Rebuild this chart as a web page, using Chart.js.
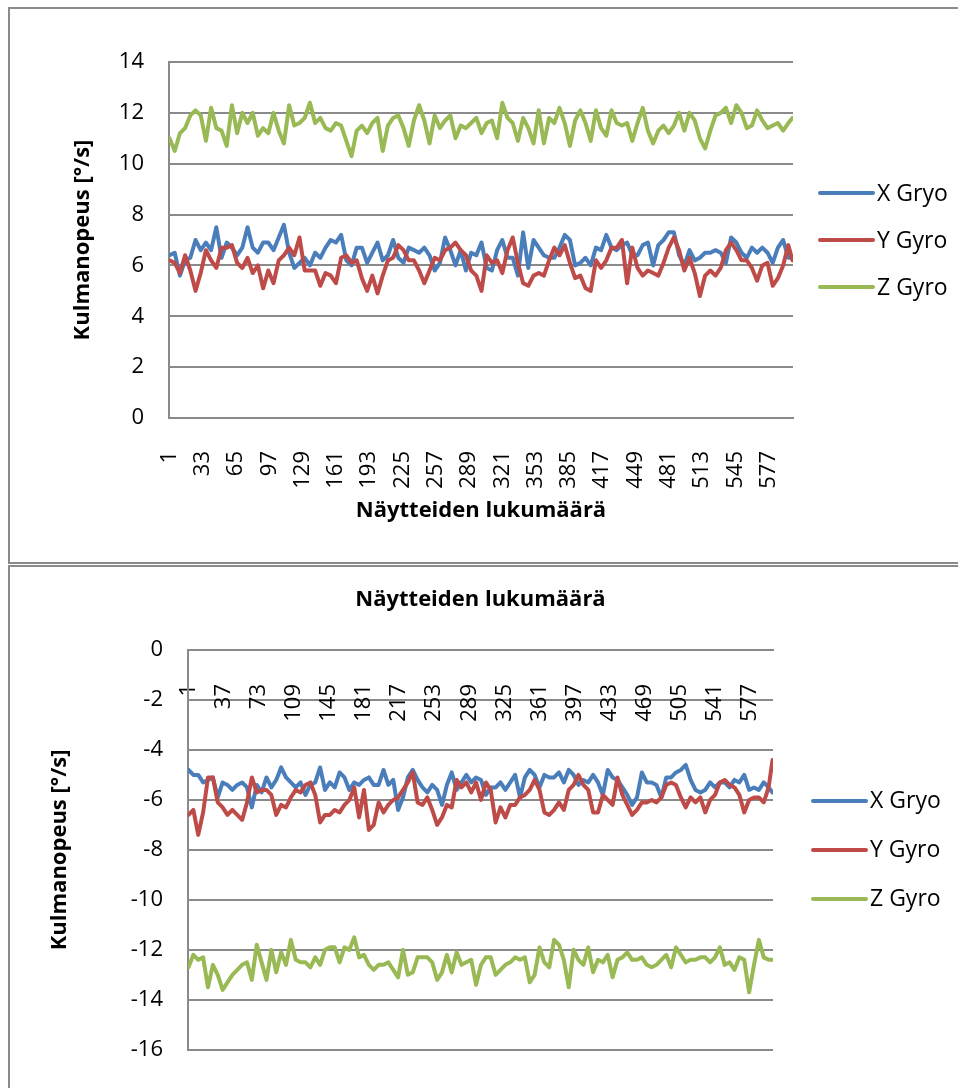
<!DOCTYPE html>
<html><head><meta charset="utf-8">
<script src="https://cdn.jsdelivr.net/npm/chart.js@4/dist/chart.umd.min.js"></script>
<style>
html,body{margin:0;padding:0;background:#fff;overflow:hidden;width:958px;height:1088px;}
.frame{position:absolute;box-sizing:border-box;border:2px solid #8a8a8a;}
#f1{left:8px;top:7px;width:1000px;height:557px;}
#f2{left:8px;top:565px;width:1000px;height:600px;}
canvas{position:absolute;left:0;}
#c1{top:0;}
#c2{top:565px;}
</style></head><body>
<div class="frame" id="f1"></div><div class="frame" id="f2"></div>
<canvas id="c1" width="958" height="565"></canvas>
<canvas id="c2" width="958" height="523"></canvas>
<script>
// ---- data ----
const seriesNames = ['X Gryo', 'Y Gyro', 'Z Gyro'];
const sampleStep = 5;      // samples 1, 6, 11, ... 596, then 600
const lastSample = 600;
const topTickLabels = [1,33,65,97,129,161,193,225,257,289,321,353,385,417,449,481,513,545,577];
const bottomTickLabels = [1,37,73,109,145,181,217,253,289,325,361,397,433,469,505,541,577];

const topX = [6.4,6.5,5.6,6.2,6.3,7.0,6.6,6.9,6.6,7.5, 6.3,6.9,6.7,6.4,6.7,7.5,6.7,6.5,6.9,6.9,
  6.6,7.1,7.6,6.5,5.9,6.1,6.3,6.0,6.5,6.3, 6.7,7.0,6.9,7.2,6.2,6.0,6.7,6.7,6.1,6.5,
  6.9,6.2,6.4,7.0,6.3,6.1,6.7,6.6,6.5,6.7, 6.4,5.8,6.1,7.1,6.6,6.0,6.6,5.8,6.5,6.4, 6.9,
  5.9,5.8,6.6,7.0,6.3,6.3,5.6,7.3,5.9,7.0, 6.7,6.4,6.3,6.3,6.7,7.2,7.0,6.0,6.1,6.3,
  6.0,6.7,6.6,7.2,6.7,6.6,6.8,6.9,6.4,6.4, 6.8,6.9,6.0,6.8,7.0,7.3,7.3,6.4,6.0,6.6,
  6.2,6.3,6.5,6.5,6.6,6.5,6.1,7.1,6.9,6.5, 6.3,6.7,6.5,6.7,6.5,6.1,6.7,7.0,6.3, 6.3];
const topY = [6.2,6.1,5.7,6.4,5.8,5.0,5.7,6.6,6.2,5.9, 6.7,6.7,6.8,6.1,5.9,6.3,5.7,6.0,5.1,5.8,
  5.3,6.2,6.4,6.7,6.4,7.1,5.8,5.8,5.8,5.2, 5.7,5.6,5.3,6.3,6.4,6.1,6.2,5.5,5.0,5.6,
  4.9,5.6,6.2,6.3,6.8,6.6,6.2,6.2,5.8,5.3, 5.8,6.3,6.2,6.6,6.7,6.9,6.6,6.4,5.8,5.6, 5.0,
  6.4,6.1,6.2,5.7,6.6,7.1,6.1,5.3,5.2,5.6, 5.7,5.6,6.2,6.7,6.4,6.8,6.1,5.5,5.6,5.1,
  5.0,6.2,5.9,6.2,6.7,6.7,7.0,5.3,6.7,5.9, 5.6,5.8,5.7,5.6,6.1,6.7,7.1,6.6,5.8,6.3,
  5.7,4.8,5.6,5.8,5.6,5.9,6.6,6.9,6.6,6.2, 6.2,5.9,5.4,6.0,6.1,5.2,5.5,6.0,6.8, 6.2];
const topZ = [11.0,10.5,11.2,11.4,11.9,12.1,11.9,10.9,12.2,11.4, 11.3,10.7,12.3,11.2,12.0,11.6,12.0,11.1,11.4,11.2,
  12.0,11.3,10.8,12.3,11.5,11.6,11.8,12.4,11.6,11.8, 11.4,11.3,11.6,11.5,10.9,10.3,11.3,11.5,11.2,11.6,
  11.8,10.5,11.5,11.8,11.9,11.4,10.7,11.7,12.3,11.7, 10.8,11.9,11.4,11.7,11.9,11.0,11.5,11.4,11.6,11.8, 11.2,
  11.6,11.7,11.0,12.4,11.8,11.6,10.9,11.8,11.4,10.8, 12.1,10.8,11.8,11.6,12.2,11.6,10.7,11.7,12.1,11.6,
  10.9,12.1,11.4,11.1,12.1,11.6,11.5,11.6,10.9,11.6, 12.2,11.3,10.8,11.3,11.5,11.2,11.5,12.0,11.3,12.0,
  11.7,11.0,10.6,11.3,11.9,12.0,12.2,11.6,12.3,12.0, 11.4,11.5,12.1,11.7,11.4,11.5,11.6,11.3,11.6, 11.8];

const bottomX = [-4.8,-5.0,-5.0,-5.3,-5.2,-5.1,-5.9,-5.3,-5.4,-5.6, -5.4,-5.3,-5.5,-6.3,-5.4,-5.7,-5.1,-5.5,-5.2,-4.7,
  -5.1,-5.3,-5.5,-5.3,-5.8,-5.4,-5.3,-4.7,-5.6,-5.3, -5.5,-4.9,-5.1,-5.6,-5.3,-5.4,-5.2,-5.1,-5.4,-5.4,
  -4.8,-5.4,-5.2,-6.4,-5.9,-5.1,-4.8,-5.2,-5.5,-5.7, -5.4,-5.6,-6.2,-5.4,-4.9,-5.6,-5.3,-5.0,-5.3,-5.1, -5.2,
  -5.8,-5.5,-5.5,-5.3,-5.6,-5.3,-5.0,-5.9,-5.1,-4.8, -5.0,-5.5,-5.0,-5.1,-5.1,-4.9,-5.3,-4.8,-5.0,-5.4,
  -5.2,-5.3,-5.0,-5.3,-5.8,-4.8,-5.1,-5.2,-5.5,-5.8, -6.2,-5.9,-4.9,-5.3,-5.3,-5.4,-5.9,-5.1,-5.1,-4.9,
  -4.8,-4.6,-5.2,-5.6,-5.7,-5.6,-5.3,-5.5,-5.3,-5.3, -5.5,-5.2,-5.3,-5.0,-5.6,-5.5,-5.6,-5.3,-5.5, -5.7];
const bottomY = [-6.6,-6.4,-7.4,-6.5,-5.1,-5.1,-6.1,-6.3,-6.6,-6.4, -6.6,-6.8,-6.1,-5.1,-5.7,-5.6,-5.6,-5.8,-6.6,-6.2,
  -6.3,-5.9,-5.6,-5.7,-5.4,-5.3,-5.8,-6.9,-6.6,-6.6, -6.4,-6.5,-6.2,-6.0,-5.5,-6.7,-5.6,-7.2,-7.0,-6.1,
  -6.5,-6.2,-6.0,-5.9,-5.6,-5.3,-4.9,-6.1,-6.2,-5.9, -6.4,-7.0,-6.7,-6.2,-6.3,-5.2,-5.5,-5.3,-5.7,-5.3, -6.0,
  -5.3,-5.6,-6.9,-6.3,-6.7,-6.2,-6.2,-5.9,-5.8,-5.6, -5.2,-5.6,-6.5,-6.6,-6.4,-6.1,-6.4,-5.6,-5.4,-5.0,
  -5.4,-5.6,-6.5,-6.5,-5.8,-6.0,-6.2,-5.1,-5.8,-6.2, -6.6,-6.4,-6.1,-6.1,-6.0,-6.1,-5.9,-5.4,-5.3,-5.4,
  -5.9,-6.3,-5.9,-6.1,-5.9,-6.5,-6.0,-5.8,-5.3,-5.2, -5.4,-5.5,-5.8,-6.5,-6.0,-5.9,-5.9,-6.1,-5.5, -4.4];
const bottomZ = [-12.7,-12.2,-12.4,-12.3,-13.5,-12.6,-13.0,-13.6,-13.3,-13.0, -12.8,-12.6,-12.5,-13.2,-11.8,-12.5,-13.2,-12.0,-12.9,-12.1,
  -12.6,-11.6,-12.4,-12.5,-12.5,-12.7,-12.3,-12.6,-12.0,-11.9, -11.9,-12.5,-11.9,-12.0,-11.5,-12.3,-12.2,-12.6,-12.8,-12.6,
  -12.6,-12.5,-12.8,-13.1,-12.0,-13.0,-12.9,-12.3,-12.3,-12.3, -12.5,-13.2,-12.9,-12.2,-12.9,-12.1,-12.6,-12.5,-12.4,-13.4, -12.6,
  -12.3,-12.3,-13.0,-12.8,-12.6,-12.5,-12.3,-12.4,-12.3,-13.3, -13.0,-11.9,-12.5,-12.7,-11.6,-11.8,-12.4,-13.5,-12.0,-12.4,
  -12.6,-11.9,-12.9,-12.4,-12.5,-12.2,-13.1,-12.4,-12.3,-12.1, -12.4,-12.4,-12.3,-12.6,-12.7,-12.6,-12.4,-12.2,-12.7,-11.9,
  -12.2,-12.5,-12.4,-12.4,-12.3,-12.3,-12.5,-12.3,-11.9,-12.6, -12.5,-12.8,-12.3,-12.4,-13.7,-12.6,-11.6,-12.3,-12.4, -12.4];

// ---- styling ----
const seriesColors = ['#4a7ebb', '#be4b48', '#98b954'];
const gridColor = '#8a8a8a';
const FAMILY = '"Open Sans", "Noto Sans", sans-serif';
const TICK_SIZE = 22;
const LINE_W = 4;
const axisTitleText = 'Kulmanopeus [°/s]';
const xTitleText = 'Näytteiden lukumäärä';

function toPoints(vals) {
  return vals.map((v, k) => ({ x: Math.min(1 + sampleStep * k, lastSample), y: v }));
}

const sideLegend = {
  id: 'sideLegend',
  afterDraw(chart, args, opts) {
    const ctx = chart.ctx, ca = chart.chartArea, ds = chart.data.datasets;
    const cy = (ca.top + ca.bottom) / 2;
    ctx.save();
    ctx.font = '23px ' + FAMILY;
    ctx.textBaseline = 'middle';
    ctx.textAlign = 'left';
    ctx.fillStyle = '#000';
    ds.forEach((d, i) => {
      const y = cy + (i - (ds.length - 1) / 2) * opts.spacing;
      ctx.strokeStyle = d.borderColor;
      ctx.lineWidth = LINE_W;
      ctx.lineCap = 'round';
      ctx.beginPath();
      ctx.moveTo(opts.x, y);
      ctx.lineTo(opts.x + opts.len, y);
      ctx.stroke();
      ctx.fillText(d.label, opts.x + opts.len + opts.gap, y + 1);
    });
    ctx.restore();
  }
};

function datasets(xs, ys, zs) {
  return [
    { label: seriesNames[0], data: toPoints(xs), borderColor: seriesColors[0], backgroundColor: seriesColors[0], borderWidth: LINE_W, order: 3 },
    { label: seriesNames[1], data: toPoints(ys), borderColor: seriesColors[1], backgroundColor: seriesColors[1], borderWidth: LINE_W, order: 2 },
    { label: seriesNames[2], data: toPoints(zs), borderColor: seriesColors[2], backgroundColor: seriesColors[2], borderWidth: LINE_W, order: 1 }
  ];
}

const common = {
  responsive: false,
  animation: false,
  devicePixelRatio: 1,
  elements: {
    line: { borderWidth: LINE_W, tension: 0, borderJoinStyle: 'round', borderCapStyle: 'round' },
    point: { radius: 0, hoverRadius: 0 }
  },
  events: []
};

function xScale(ticksArr, extra) {
  return Object.assign({
    type: 'linear', min: 0.5, max: lastSample + 0.5,
    afterBuildTicks: s => { s.ticks = ticksArr.map(v => ({ value: v })); },
    grid: { display: false },
    border: { display: true, color: gridColor, width: 2 }
  }, extra);
}

// ---- top chart ----
new Chart(document.getElementById('c1'), {
  type: 'line',
  data: { datasets: datasets(topX, topY, topZ) },
  options: Object.assign({}, common, {
    layout: { padding: { left: 0, top: 62, right: 165, bottom: 0 } },
    plugins: { legend: { display: false }, tooltip: { enabled: false },
      sideLegend: { x: 820, len: 53, gap: 4, spacing: 47 } },
    scales: {
      x: xScale(topTickLabels, {
        position: 'bottom',
        afterFit: s => { s.height = 147; },
        ticks: { autoSkip: false, maxRotation: 90, minRotation: 90, padding: 25, color: '#000', font: { family: FAMILY, size: TICK_SIZE } },
        title: { display: true, text: xTitleText, color: '#000', font: { family: FAMILY, size: TICK_SIZE, weight: 'bold' }, padding: { top: 0, bottom: 41 } }
      }),
      y: {
        min: 0, max: 14,
        afterFit: s => { s.width = 169; },
        ticks: { stepSize: 2, padding: 25, color: '#000', font: { family: FAMILY, size: TICK_SIZE } },
        grid: { color: gridColor, lineWidth: 2, drawTicks: false },
        border: { display: true, color: gridColor, width: 2 },
        title: { display: true, text: axisTitleText, color: '#000', font: { family: FAMILY, size: TICK_SIZE, weight: 'bold' }, padding: { top: 70, bottom: 0 } }
      }
    }
  }),
  plugins: [sideLegend]
});

// ---- bottom chart ----
new Chart(document.getElementById('c2'), {
  type: 'line',
  data: { datasets: datasets(bottomX, bottomY, bottomZ) },
  options: Object.assign({}, common, {
    layout: { padding: { left: 0, top: 85, right: 185, bottom: 22 } },
    plugins: { legend: { display: false }, tooltip: { enabled: false },
      sideLegend: { x: 813, len: 53, gap: 4, spacing: 49 } },
    scales: {
      x: xScale(bottomTickLabels, {
        position: { y: 0 },
        afterFit: s => { s.height = 0; },
        ticks: { autoSkip: false, maxRotation: 90, minRotation: 90, padding: 26, color: '#000', font: { family: FAMILY, size: TICK_SIZE } },
        title: { display: true, text: xTitleText, color: '#000', font: { family: FAMILY, size: TICK_SIZE, weight: 'bold' }, padding: { top: 0, bottom: 37 } }
      }),
      y: {
        min: -16, max: 0,
        afterFit: s => { s.width = 188; },
        ticks: { stepSize: 2, padding: 25, color: '#000', font: { family: FAMILY, size: TICK_SIZE } },
        grid: { color: gridColor, lineWidth: 2, drawTicks: false },
        border: { display: true, color: gridColor, width: 2 },
        title: { display: true, text: axisTitleText, color: '#000', font: { family: FAMILY, size: TICK_SIZE, weight: 'bold' }, padding: { top: 47, bottom: 0 } }
      }
    }
  }),
  plugins: [sideLegend]
});
</script>
</body></html>
